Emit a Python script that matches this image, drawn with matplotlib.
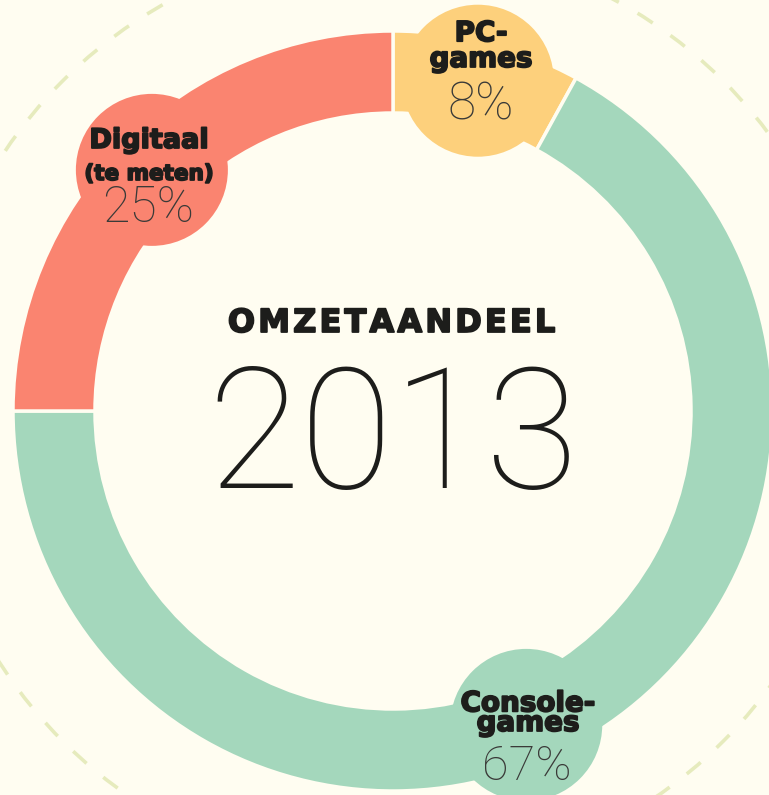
import numpy as np
import matplotlib
matplotlib.use("Agg")
from matplotlib import pyplot as plt
from matplotlib import font_manager as fm
from matplotlib import patheffects as pe
from matplotlib.patches import Circle

# data
labels = ["PC-\ngames", "Console-\ngames", "Digitaal\n(te meten)"]
shares = [8, 67, 25]
colors = ["#fdd07c", "#a4d7bc", "#fa8470"]
title = "OMZETAANDEEL"
year = "2013"

W, H = 769, 795
bg = "#fffdf1"
ink = "#1d1d1b"


def pick_font(cands, lo, hi):
    # first candidate family that has a weight inside [lo, hi], lightest one
    fonts = [(f.name, f.weight) for f in fm.fontManager.ttflist]
    for fam in cands:
        ws = sorted(int(w) for n, w in fonts if n == fam and lo <= int(w) <= hi)
        if ws:
            return fam, ws[0]
    return "DejaVu Sans", 200


thin_fam, thin_w = pick_font(["Roboto Thin", "Roboto", "Lato Hairline", "Lato",
                              "Open Sans"], 100, 300)

fig = plt.figure(figsize=(W / 100, H / 100), dpi=100, facecolor=bg)
ax = fig.add_axes([0, 0, 1, 1])

cx, cy = 393, H - 411
r_out, ring = 380, 82

# faint dashed outer circle
ax.add_patch(Circle((cx, cy), 467, fill=False, ec="#e6ebbd", lw=2.6,
                    ls=(0, (5, 6)), zorder=0))

ax.pie(shares, colors=colors, startangle=90, counterclock=False,
       center=(cx, cy), radius=r_out,
       wedgeprops=dict(width=ring, edgecolor=bg, linewidth=2.5))
ax.set_xlim(0, W)
ax.set_ylim(0, H)
ax.set_aspect("equal")
ax.axis("off")

# bubbles sitting on the ring
r_mid = 341
bubble_angle = [14.4, 157, 315]   # clockwise from top, degrees
for ang, col in zip(bubble_angle, colors):
    a = np.radians(ang)
    ax.add_patch(Circle((cx + r_mid * np.sin(a), cy + r_mid * np.cos(a)), 76,
                        fc=col, ec="none", zorder=3))

heavy = [pe.withStroke(linewidth=1.3, foreground=ink)]
bold = dict(family="DejaVu Sans", fontweight="bold", color=ink,
            ha="center", va="baseline", zorder=5, path_effects=heavy)
thin = dict(family=thin_fam, fontweight=thin_w, color="#3a3a38",
            ha="center", va="baseline", zorder=5)

# label text (x, baseline y of the last line, from top)
dig_top, dig_sub = labels[2].split("\n")
ax.text(149, H - 148, dig_top, fontsize=19.5, **bold)
ax.text(149, H - 180, dig_sub, fontsize=15.5, **bold)
ax.text(148, H - 222, f"{shares[2]}%", fontsize=36, **thin)

ax.text(481, H - 67, labels[0], fontsize=20, linespacing=0.9, **bold)
ax.text(481, H - 120, f"{shares[0]}%", fontsize=37, **thin)

ax.text(528, H - 731, labels[1], fontsize=20, linespacing=0.62, **bold)
ax.text(527, H - 780, f"{shares[1]}%", fontsize=35, **thin)

ax.text(392, H - 332, "\u200a".join(title), fontsize=23, **bold)
ax.text(393, H - 488, year, fontsize=122, family=thin_fam, fontweight=thin_w,
        color=ink, ha="center", va="baseline", zorder=5)

fig.savefig("out.png", dpi=100, facecolor=bg)
